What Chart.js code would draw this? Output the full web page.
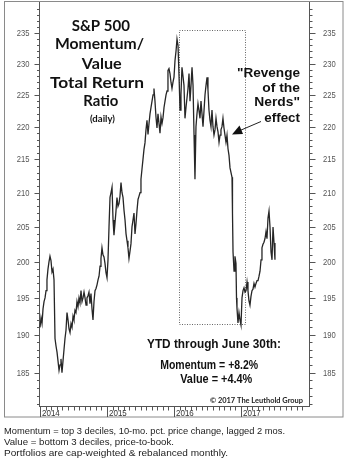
<!DOCTYPE html>
<html><head><meta charset="utf-8">
<script src="https://cdn.jsdelivr.net/npm/chart.js@4.4.1/dist/chart.umd.min.js"></script>
<style>html,body{margin:0;padding:0;background:#fff;}canvas{display:block;}</style>
</head><body>
<canvas id="c" width="350" height="469"></canvas>
<script>
// ---- DATA ----
const dates = [
2014.000,2014.015,2014.030,2014.045,2014.060,2014.075,2014.090,2014.104,2014.119,2014.134,
2014.149,2014.164,2014.179,2014.194,2014.209,2014.224,2014.239,2014.254,2014.269,2014.284,
2014.299,2014.313,2014.328,2014.343,2014.358,2014.373,2014.388,2014.403,2014.418,2014.433,
2014.448,2014.463,2014.478,2014.493,2014.507,2014.522,2014.537,2014.552,2014.567,2014.582,
2014.597,2014.612,2014.627,2014.642,2014.657,2014.672,2014.687,2014.701,2014.716,2014.731,
2014.746,2014.761,2014.776,2014.791,2014.806,2014.821,2014.836,2014.851,2014.866,2014.881,
2014.896,2014.910,2014.925,2014.940,2014.955,2014.970,2014.985,
2015.000,2015.015,2015.030,2015.045,2015.060,2015.075,2015.090,2015.104,2015.119,2015.134,
2015.149,2015.164,2015.179,2015.194,2015.209,2015.224,2015.239,2015.254,2015.269,2015.284,
2015.299,2015.313,2015.328,2015.343,2015.358,2015.373,2015.388,2015.403,2015.418,2015.433,
2015.448,2015.463,2015.478,2015.493,2015.507,2015.522,2015.537,2015.552,2015.567,2015.582,
2015.597,2015.612,2015.627,2015.642,2015.657,2015.672,2015.687,2015.701,2015.716,2015.731,
2015.746,2015.761,2015.776,2015.791,2015.806,2015.821,2015.836,2015.851,2015.866,2015.881,
2015.896,2015.910,2015.925,2015.940,2015.955,2015.970,2015.985,
2016.000,2016.015,2016.030,2016.045,2016.060,2016.075,2016.090,2016.104,2016.119,2016.134,
2016.149,2016.164,2016.179,2016.194,2016.209,2016.224,2016.239,2016.254,2016.269,2016.284,
2016.299,2016.313,2016.328,2016.343,2016.358,2016.373,2016.388,2016.403,2016.418,2016.433,
2016.448,2016.463,2016.478,2016.493,2016.507,2016.522,2016.537,2016.552,2016.567,2016.582,
2016.597,2016.612,2016.627,2016.642,2016.657,2016.672,2016.687,2016.701,2016.716,2016.731,
2016.746,2016.761,2016.776,2016.791,2016.806,2016.821,2016.836,2016.851,2016.866,2016.873,2016.881,
2016.896,2016.910,2016.925,2016.933,2016.940,2016.955,2016.970,2016.985,
2017.000,2017.015,2017.030,2017.045,2017.060,2017.075,2017.090,2017.104,2017.119,2017.134,
2017.149,2017.164,2017.179,2017.194,2017.209,2017.224,2017.239,2017.254,2017.269,2017.284,
2017.299,2017.313,2017.328,2017.343,2017.358,2017.373,2017.388,2017.403,2017.418,2017.433,
2017.448,2017.463,2017.478,2017.493,2017.507
];
const ratio = [
191.0,192.3,191.5,193.5,194.5,195.0,196.0,197.5,199.0,200.0,
200.8,200.2,198.6,199.0,197.5,189.5,188.5,187.7,186.5,185.3,
186.0,186.8,185.0,186.5,188.0,189.5,190.6,193.0,192.0,190.8,
190.3,191.5,191.0,192.5,192.0,193.3,193.0,194.5,193.8,195.0,
194.3,196.0,194.5,195.0,195.8,195.0,194.0,195.0,195.3,195.8,
194.2,195.6,193.5,192.0,194.5,196.0,196.3,196.8,197.5,198.0,
199.4,200.5,202.0,201.0,200.7,199.8,198.5,
197.8,200.3,205.0,209.3,210.0,210.8,206.0,203.8,205.5,207.3,
209.3,208.0,208.4,209.5,211.5,210.0,209.3,207.4,206.0,204.0,
203.0,202.0,200.5,201.5,202.6,205.0,206.0,207.0,204.0,205.5,
207.4,209.0,209.5,210.0,212.0,213.5,215.0,216.5,217.5,219.5,
221.0,218.8,220.5,222.0,223.0,224.0,225.0,226.0,224.0,221.5,
219.8,222.0,220.5,219.0,221.5,220.5,221.4,223.0,224.0,225.0,
225.6,228.9,229.2,228.4,227.0,226.0,227.0,
227.8,230.5,232.0,234.0,233.0,228.0,222.6,225.0,229.4,228.0,
226.5,221.3,223.0,224.5,226.0,228.4,224.0,226.5,229.4,226.5,
218.7,212.0,220.0,222.0,223.6,222.5,221.3,224.0,222.0,220.0,
222.5,225.0,226.5,227.8,225.8,222.6,221.0,220.0,222.6,220.0,
218.7,219.5,221.3,220.0,219.2,217.6,218.7,219.5,220.0,221.3,
219.8,218.7,217.6,218.7,216.6,215.6,213.7,213.0,212.3,207.0,201.4,
198.7,200.8,199.8,195.0,193.6,191.6,193.0,192.0,
191.3,195.0,196.0,196.4,195.8,196.0,197.2,196.0,194.6,194.0,
195.2,196.0,196.2,197.0,196.5,197.0,197.4,197.4,198.0,198.7,
200.3,202.0,202.5,202.8,203.3,204.3,203.3,206.3,207.3,205.0,
201.4,200.3,205.0,202.7,200.3
];
const yTickLabels = [185,190,195,200,205,210,215,220,225,230,235];
const yMinorTicks = [181,182,183,184,186,187,188,189,191,192,193,194,196,197,198,199,201,202,203,204,206,207,208,209,211,212,213,214,216,217,218,219,221,222,223,224,226,227,228,229,231,232,233,234,236,237,238,239];
const xYearLabels = ['2014','2015','2016','2017'];
const titleLines = ['S&P 500','Momentum/','Value','Total Return','Ratio'];
const subTitle = '(daily)';
const calloutLines = ['"Revenge','of the','Nerds"','effect'];
const ytdLines = ['YTD through June 30th:','Momentum = +8.2%','Value = +4.4%'];
const highlightPeriod = [2016.075, 2017.060];  // dotted box (years)
const highlightRange = [191.4, 235.5];        // dotted box (ratio)
const copyright = '\u00A9 2017 The Leuthold Group';
const footnotes = ['Momentum = top 3 deciles, 10-mo. pct. price change, lagged 2 mos.',
                   'Value = bottom 3 deciles, price-to-book.',
                   'Portfolios are cap-weighted & rebalanced monthly.'];

const points = dates.map((d,i)=>({x:d, y:ratio[i]}));

const SANS = '"Liberation Sans", Arial, sans-serif';
const GEO = 'Lato, "Open Sans", sans-serif';

function txt(ctx, s, x, cy, align, size, weight, family, w, color){
  ctx.save();
  ctx.font = `${weight} ${size}px ${family}`;
  ctx.fillStyle = color;
  ctx.textBaseline = 'alphabetic';
  ctx.textAlign = 'left';
  const m = ctx.measureText(s).width;
  const sx = w ? w/m : 1;
  const ww = m*sx;
  const x0 = align==='left' ? x : (align==='right' ? x-ww : x-ww/2);
  ctx.translate(x0, cy + size*0.36);
  ctx.scale(sx,1);
  ctx.fillText(s,0,0);
  ctx.restore();
}

const decor = {
  id:'decor',
  beforeDraw(chart){
    const ctx = chart.ctx;
    ctx.save(); ctx.fillStyle='#fff'; ctx.fillRect(0,0,chart.width,chart.height); ctx.restore();
  },
  beforeDatasetsDraw(chart){
    const ctx = chart.ctx, ca = chart.chartArea;
    const xs = chart.scales.x, ys = chart.scales.y;
    ctx.save();
    ctx.strokeStyle='#8a8a8a'; ctx.lineWidth=1;
    ctx.strokeRect(4.5,1.5,338.5,415.5);
    ctx.strokeStyle='#555';
    ctx.beginPath();
    ctx.moveTo(ca.left+0.5, ca.top); ctx.lineTo(ca.left+0.5, ca.bottom+0.5);
    ctx.moveTo(ca.right+0.5, ca.top); ctx.lineTo(ca.right+0.5, ca.bottom+0.5);
    ctx.moveTo(ca.left, ca.bottom+0.5); ctx.lineTo(ca.right+1, ca.bottom+0.5);
    ctx.stroke();
    ctx.beginPath();
    yMinorTicks.forEach(v=>{
      const y = Math.round(ys.getPixelForValue(v))+0.5;
      ctx.moveTo(ca.left-2, y); ctx.lineTo(ca.left+0.5, y);
      ctx.moveTo(ca.right+0.5, y); ctx.lineTo(ca.right+3.5, y);
    });
    yTickLabels.forEach(v=>{
      const y = Math.round(ys.getPixelForValue(v))+0.5;
      ctx.moveTo(ca.left-4.5, y); ctx.lineTo(ca.left+0.5, y);
      ctx.moveTo(ca.right+0.5, y); ctx.lineTo(ca.right+6.5, y);
    });
    ctx.stroke();
    yTickLabels.forEach(v=>{
      const y = ys.getPixelForValue(v);
      txt(ctx, String(v), 29.5, y, 'right', 8.5, 'normal', SANS, 12.7, '#555');
      txt(ctx, String(v), 323, y, 'left', 8.5, 'normal', SANS, 12.7, '#555');
    });
    ctx.beginPath();
    for (let yr=2014; yr<2018; yr++){
      for (let m=0; m<12; m++){
        const x = Math.round(xs.getPixelForValue(yr+m/12))+0.5;
        if (m===0){ ctx.moveTo(x, ca.bottom); ctx.lineTo(x, 417); }
        else { ctx.moveTo(x, ca.bottom); ctx.lineTo(x, ca.bottom+4.5); }
      }
    }
    ctx.stroke();
    xYearLabels.forEach(l=>{
      const x = xs.getPixelForValue(+l);
      txt(ctx, l, x+2, 412, 'left', 9.8, 'normal', SANS, 17.8, '#333');
    });
    ctx.strokeStyle='#666'; ctx.setLineDash([1,1.5]);
    const bx0 = Math.round(xs.getPixelForValue(highlightPeriod[0]))+0.5;
    const bx1 = Math.round(xs.getPixelForValue(highlightPeriod[1]))+0.5;
    const by0 = Math.round(ys.getPixelForValue(highlightRange[1]))+0.5;
    const by1 = Math.round(ys.getPixelForValue(highlightRange[0]))+0.5;
    ctx.strokeRect(bx0, by0, bx1-bx0, by1-by0);
    ctx.setLineDash([]);
    const tc = [[100.8,25,58.3],[99.5,43.5,89],[101.7,63,40],[97,82,94],[100.8,100,35]];
    titleLines.forEach((s,i)=> txt(ctx, s, tc[i][0], tc[i][1], 'center', 16, 'bold', GEO, tc[i][2], '#111'));
    txt(ctx, subTitle, 102.5, 118.3, 'center', 10, 'bold', GEO, 25, '#111');
    const cw = [[72,63],[87.5,37.7],[101.5,45.7],[117.5,35.7]];
    calloutLines.forEach((s,i)=> txt(ctx, s, 300, cw[i][0], 'right', 13, 'bold', SANS, cw[i][1], '#111'));
    ctx.strokeStyle='#222'; ctx.lineWidth=1;
    ctx.beginPath(); ctx.moveTo(261,121.5); ctx.lineTo(240,130.5); ctx.stroke();
    ctx.fillStyle='#111';
    ctx.beginPath(); ctx.moveTo(232,134.5); ctx.lineTo(239.5,125.5); ctx.lineTo(243,134); ctx.closePath(); ctx.fill();
    txt(ctx, ytdLines[0], 214, 344, 'center', 12, 'bold', SANS, 134, '#111');
    txt(ctx, ytdLines[1], 209.2, 365, 'center', 12, 'bold', SANS, 98, '#111');
    txt(ctx, ytdLines[2], 216.2, 378.3, 'center', 12, 'bold', SANS, 72, '#111');
    txt(ctx, copyright, 303, 400, 'right', 8, 'bold', GEO, 93, '#222');
    const fy = [[430,281],[441,170],[452,224]];
    footnotes.forEach((s,i)=> txt(ctx, s, 4, fy[i][0], 'left', 9.8, 'normal', SANS, fy[i][1], '#222'));
    ctx.restore();
  }
};

new Chart(document.getElementById('c'), {
  type:'line',
  data:{ datasets:[{ data:points, borderColor:'#262626', borderWidth:1.3, pointRadius:0, tension:0, fill:false }]},
  options:{
    responsive:false, animation:false, devicePixelRatio:1,
    layout:{ padding:{ left:39, right:41, top:2, bottom:63 } },
    plugins:{ legend:{display:false}, tooltip:{enabled:false} },
    scales:{
      x:{ type:'linear', display:false, min:2013.985, max:2018.015, bounds:'data' },
      y:{ type:'logarithmic', display:false, min:180.7, max:240.2, bounds:'data' }
    }
  },
  plugins:[decor]
});
</script>
</body></html>
